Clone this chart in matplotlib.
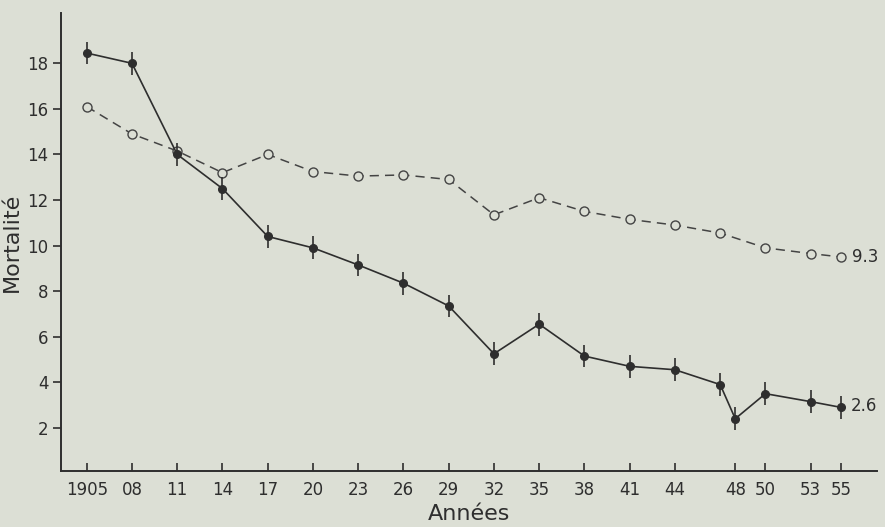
import numpy as np
import matplotlib.pyplot as plt

# years and values
years_filled = [1905, 1908, 1911, 1914, 1917, 1920, 1923, 1926, 1929, 1932,
                1935, 1938, 1941, 1944, 1947, 1948, 1950, 1953, 1955]
mort_filled = [18.45, 18.0, 14.0, 12.5, 10.4, 9.9, 9.15, 8.35, 7.35, 5.25,
               6.55, 5.15, 4.7, 4.55, 3.9, 2.4, 3.5, 3.15, 2.9]

years_open = [1905, 1908, 1911, 1914, 1917, 1920, 1923, 1926, 1929, 1932,
              1935, 1938, 1941, 1944, 1947, 1950, 1953, 1955]
mort_open = [16.1, 14.9, 14.15, 13.2, 14.0, 13.25, 13.05, 13.1, 12.9, 11.35,
             12.1, 11.5, 11.15, 10.9, 10.55, 9.9, 9.65, 9.5]

xtick_years = [1905, 1908, 1911, 1914, 1917, 1920, 1923, 1926, 1929, 1932,
               1935, 1938, 1941, 1944, 1948, 1950, 1953, 1955]
xtick_labels = ['1905', '08', '11', '14', '17', '20', '23', '26', '29', '32',
                '35', '38', '41', '44', '48', '50', '53', '55']
yticks = [2, 4, 6, 8, 10, 12, 14, 16, 18]

bg = '#dcdfd5'
ink = '#2e2e2e'

plt.rcParams['font.family'] = ['DejaVu Sans']

fig = plt.figure(figsize=(8.85, 5.27), dpi=100, facecolor=bg)
ax = fig.add_axes([0.069, 0.106, 0.922, 0.869], facecolor=bg)

# dashed series with open circles
ax.plot(years_open, mort_open, linestyle=(0, (6, 4)), color='#444444', lw=1.1,
        marker='o', markersize=6.5, markerfacecolor=bg, markeredgecolor='#444444',
        markeredgewidth=1.0, zorder=3)

# solid series with filled circles and small vertical bars
ax.errorbar(years_filled, mort_filled, yerr=0.5, fmt='-o', color=ink, lw=1.2,
            markersize=5.5, elinewidth=1.2, capsize=0, zorder=4)

ax.annotate('9.3', (years_open[-1], mort_open[-1]), xytext=(8, 0),
            textcoords='offset points', va='center', fontsize=12, color=ink)
ax.annotate('2.6', (years_filled[-1], mort_filled[-1]), xytext=(7, 1),
            textcoords='offset points', va='center', fontsize=12, color=ink)

ax.set_xlim(1903.3, 1957.4)
ax.set_ylim(0.1, 20.2)

ax.set_xticks(xtick_years)
ax.set_xticklabels(xtick_labels)
ax.set_yticks(yticks)

ax.tick_params(axis='x', direction='in', length=6, width=1.2, colors=ink,
               labelsize=12, pad=7)
ax.tick_params(axis='y', direction='out', length=6, width=1.2, colors=ink,
               labelsize=12, pad=3)

for s in ['top', 'right']:
    ax.spines[s].set_visible(False)
for s in ['left', 'bottom']:
    ax.spines[s].set_color(ink)
    ax.spines[s].set_linewidth(1.4)

ax.set_xlabel('Années', fontsize=16, color=ink, labelpad=4)
ax.set_ylabel('Mortalité', fontsize=16, color=ink, labelpad=4)

fig.savefig('out.png', dpi=100, facecolor=bg)
